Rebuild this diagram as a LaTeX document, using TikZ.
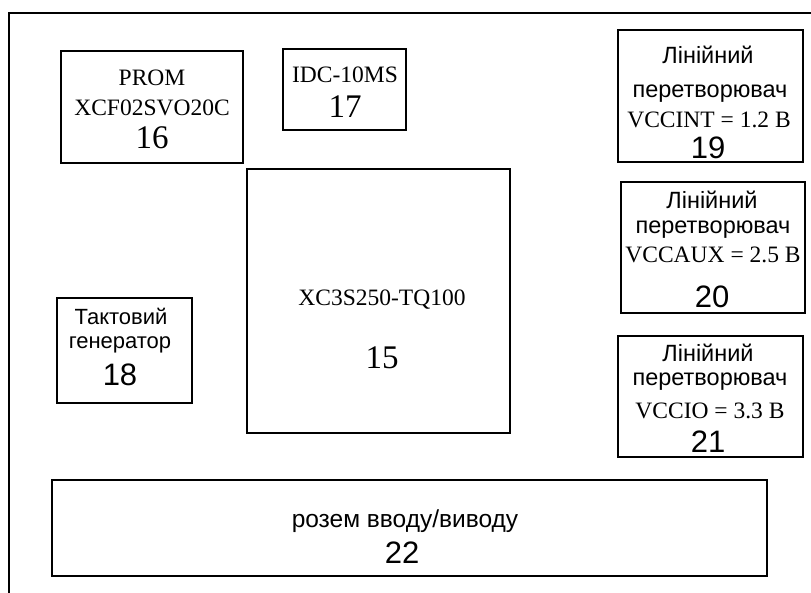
\documentclass[tikz,border=0pt]{standalone}
\usepackage{fontspec}
\setmainfont{Liberation Serif}
\newfontfamily\uasans{Liberation Sans}
\tikzset{
  box/.style={draw, line width=2.2pt, inner sep=0pt, outer sep=0pt},
  sertxt/.style={anchor=base, inner sep=0pt, font=\fontsize{23.5}{26}\selectfont},
  sernum/.style={anchor=base, inner sep=0pt, font=\fontsize{33}{36}\selectfont},
  santxt/.style={anchor=base, inner sep=0pt, font=\uasans\fontsize{23.5}{26}\selectfont},
  sannum/.style={anchor=base, inner sep=0pt, font=\uasans\fontsize{31}{34}\selectfont},
}
\begin{document}
\begin{tikzpicture}[x=1pt,y=-1pt]
\useasboundingbox (0,0) rectangle (811,592);
\begin{scope}
\clip (0,0) rectangle (811,592);
\draw[line width=2pt] (9,13) -- (840,13) -- (840,620) -- (9,620) -- cycle;
\end{scope}
% boxes
\node[box, minimum width=182pt, minimum height=112pt] (b16) at (152,107) {};
\node[box, minimum width=123pt, minimum height=81pt] (b17) at (344.5,89.5) {};
\node[box, minimum width=263pt, minimum height=264pt] (b15) at (378.5,301) {};
\node[box, minimum width=135pt, minimum height=105pt] (b18) at (124.5,350.5) {};
\node[box, minimum width=185pt, minimum height=132pt] (b19) at (710.5,96) {};
\node[box, minimum width=184pt, minimum height=131pt] (b20) at (713,247.5) {};
\node[box, minimum width=185pt, minimum height=121pt] (b21) at (710.5,396.5) {};
\node[box, minimum width=715pt, minimum height=96pt] (b22) at (409.5,528) {};
% texts
\node[sertxt] (t16a) at (152,85) {PROM};
\node[sertxt] (t16b) at (152,115) {XCF02SVO20C};
\node[sernum] (t16c) at (152,148) {16};
\node[sertxt] (t17a) at (345,82) {IDC-10MS};
\node[sernum] (t17b) at (345,117) {17};
\node[sertxt] (t15a) at (382,305) {XC3S250-TQ100};
\node[sernum] (t15b) at (382,368) {15};
\node[santxt, font=\uasans\fontsize{22}{25}\selectfont] (t18a) at (121,324) {Тактовий};
\node[santxt, font=\uasans\fontsize{22}{25}\selectfont] (t18b) at (120,348) {генератор};
\node[sannum] (t18c) at (120,385) {18};
\node[santxt] (t19a) at (708,63) {Лінійний};
\node[santxt] (t19b) at (710,97) {перетворювач};
\node[sertxt] (t19c) at (709,127) {VCCINT = 1.2 B};
\node[sannum] (t19d) at (708,158) {19};
\node[santxt] (t20a) at (712,208) {Лінійний};
\node[santxt] (t20b) at (713,233) {перетворювач};
\node[sertxt] (t20c) at (713,262) {VCCAUX = 2.5 B};
\node[sannum] (t20d) at (712,307) {20};
\node[santxt] (t21a) at (708,361) {Лінійний};
\node[santxt] (t21b) at (710,385) {перетворювач};
\node[sertxt] (t21c) at (710,418) {VCCIO = 3.3 B};
\node[sannum] (t21d) at (708,452) {21};
\node[santxt, font=\uasans\fontsize{24.5}{27}\selectfont] (t22a) at (405,527) {розем вводу/виводу};
\node[sannum] (t22b) at (402,563) {22};
\end{tikzpicture}
\end{document}
